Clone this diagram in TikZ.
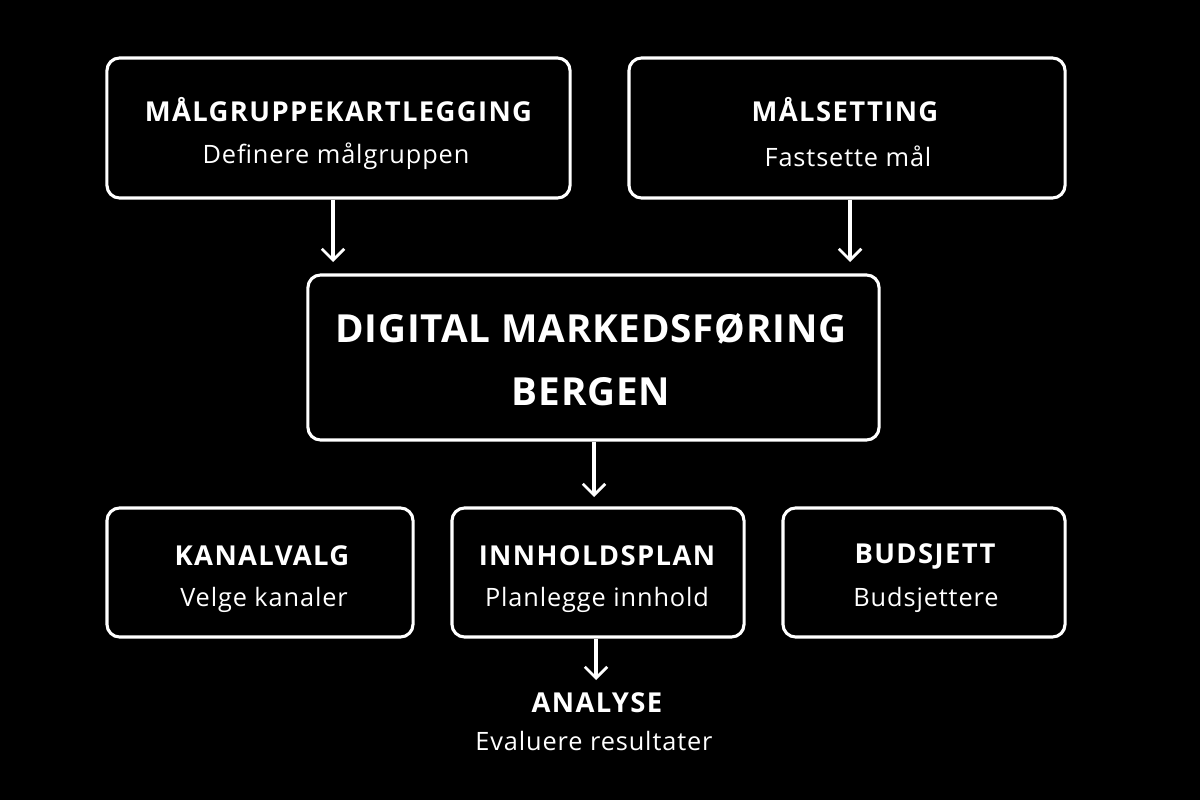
\documentclass[tikz,border=0pt]{standalone}
\usepackage{fontspec}
\setmainfont{Open Sans}
\usetikzlibrary{arrows.meta,positioning}

\begin{document}
\begin{tikzpicture}[x=0.025cm,y=-0.025cm,->,>={Straight Barb[length=8pt,width=16pt,line width=2pt]},
line width=2.2pt,white]
\tikzstyle{box}=[draw=white,rounded corners=9pt,line width=2.2pt,align=center,text=white,inner sep=0pt]
\tikzstyle{title}=[font=\fontsize{19.5}{23}\selectfont\bfseries\addfontfeature{LetterSpace=5},text=white]
\tikzstyle{sub}=[font=\fontsize{18}{21}\selectfont\addfontfeature{LetterSpace=3.5},text=white]
\fill[black] (0,0) rectangle (1200,800);
\node[box,minimum width=11.575cm,minimum height=3.5cm] (mal) at (338.5,128) {};
\node[box,minimum width=10.9cm,minimum height=3.5cm] (set) at (847,128) {};
\node[box,minimum width=14.275cm,minimum height=4.125cm] (dig) at (593.5,357.5) {};
\node[box,minimum width=7.65cm,minimum height=3.225cm] (kan) at (260,572.5) {};
\node[box,minimum width=7.3cm,minimum height=3.225cm] (inn) at (598,572.5) {};
\node[box,minimum width=7.05cm,minimum height=3.225cm] (bud) at (924,572.5) {};
\node[title] (malT) at (338.5,110) {MÅLGRUPPEKARTLEGGING};
\node[sub] (malS) at (336,156) {Definere målgruppen};
\node[title] (setT) at (845,110) {MÅLSETTING};
\node[sub] (setS) at (848,156) {Fastsette mål};
\node[font=\fontsize{27.5}{45}\selectfont\bfseries\addfontfeature{LetterSpace=2},text=white,align=center] (digT) at (591,360)
  {DIGITAL MARKEDSFØRING\\BERGEN};
\node[title] (kanT) at (262,556) {KANALVALG};
\node[sub] (kanS) at (264,600) {Velge kanaler};
\node[title] (innT) at (597,556) {INNHOLDSPLAN};
\node[sub] (innS) at (597,600) {Planlegge innhold};
\node[title] (budT) at (925,556) {BUDSJETT};
\node[sub] (budS) at (926,600) {Budsjettere};
\node[title] (anaT) at (597,703) {ANALYSE};
\node[sub] (anaS) at (594,741) {Evaluere resultater};
\coordinate (a1) at (333,262);
\coordinate (a2) at (850,262);
\coordinate (a3) at (594,497);
\coordinate (a4) at (596,680);
\path (mal.south -| a1) edge (a1)
      (set.south -| a2) edge (a2)
      (dig.south -| a3) edge (a3)
      (inn.south -| a4) edge (a4);
\end{tikzpicture}
\end{document}
